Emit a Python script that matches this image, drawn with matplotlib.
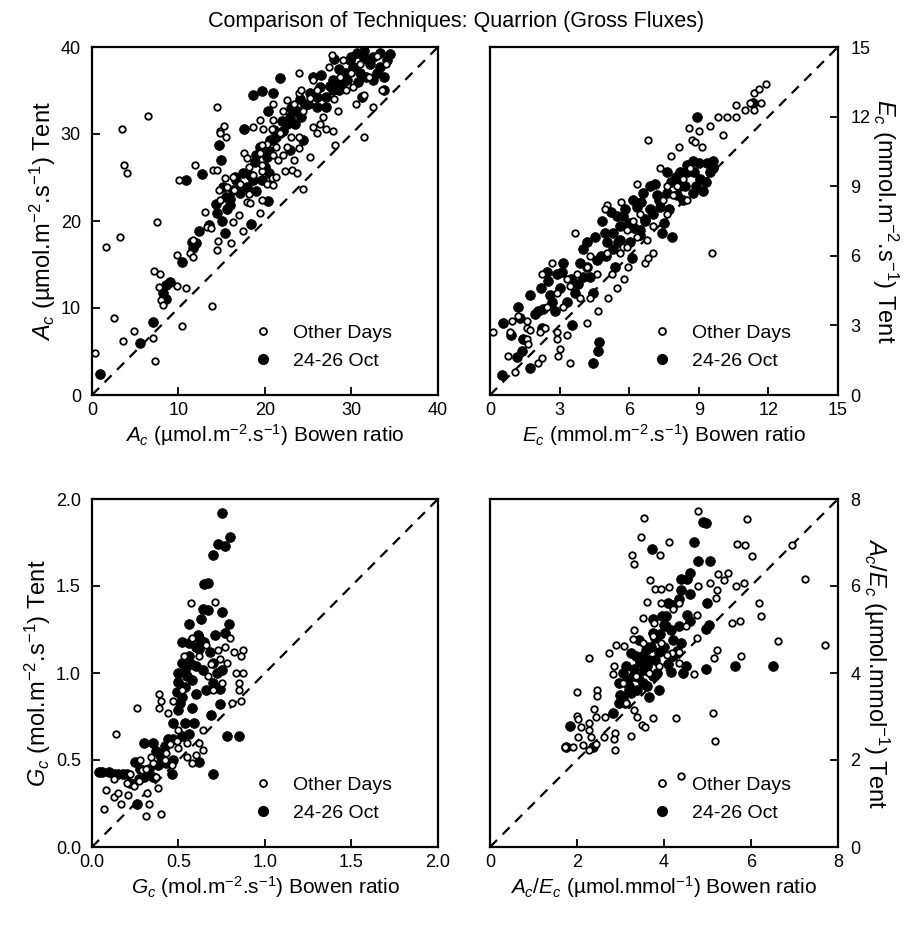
import matplotlib
matplotlib.use('Agg')
import matplotlib.pyplot as plt
from matplotlib.lines import Line2D

# ---------------- data ----------------
# Panel A: Ac (umol m-2 s-1), Bowen ratio (x) vs Tent (y)
ac_br_other = [3.5,3.7,4.1,6.5,14.4,7.5,3.2,1.6,2.5,0.3,
               3.6,4.9,7.1,7.3,10.4,13.9,9.8,10.9,7.2,7.9,
               7.7,8.0,8.2,9.8,11.9,10.1,14.0,14.5,14.8,15.3,
               15.5,14.8,15.4,16.3,14.7,16.4,13.1,13.3,13.8,14.5,
               14.6,16.1,17.5,16.3,17.0,17.9,18.3,19.4,17.6,17.9,
               18.6,19.7,20.2,20.9,20.8,19.6,19.4,20.2,20.9,22.1,
               21.3,22.5,22.3,23.1,23.7,24.4,25.2,23.9,23.9,19.4,
               18.6,19.8,20.8,20.9,20.9,22.1,23.3,23.9,23.9,24.2,
               25.2,26.0,26.4,27.1,27.9,28.4,28.1,29.4,27.4,27.7,
               31.4,32.5,24.4,25.6,26.7,25.6,28.7,30.2,22.5,21.7,
               18.1,19.6,14.8,15.6,17.1,23.0,21.3,23.3,21.5,18.1,
               19.6,11.3,11.7,11.7,30.0,31.0,32.0,33.0,29.0,34.0,
               31.5,33.5,26.0,28.0,30.5]
ac_tent_other = [30.6,26.4,25.5,32.1,33.1,19.9,18.2,17.0,8.9,4.8,
                 6.2,7.3,6.6,3.9,7.9,10.2,12.5,12.3,14.3,13.9,
                 12.4,10.9,10.3,16.1,26.4,24.7,25.9,25.9,30.4,30.9,
                 29.6,30.1,24.9,25.1,23.6,23.6,21.0,19.3,19.2,16.7,
                 17.7,17.5,18.8,19.9,20.7,22.2,22.1,20.9,27.8,27.2,
                 25.3,25.7,24.3,24.1,24.9,26.4,27.8,28.9,27.6,27.6,
                 28.5,28.5,25.7,25.9,25.5,23.7,27.4,28.4,29.7,31.6,
                 30.8,30.6,30.6,31.6,33.5,32.7,33.5,37.0,34.7,35.0,
                 34.1,30.1,31.2,30.6,30.4,32.6,28.7,35.0,37.7,39.1,
                 29.6,33.1,32.7,30.8,32.0,36.2,36.6,35.4,33.9,30.1,
                 23.1,22.4,22.4,23.9,24.3,29.7,25.1,27.0,27.0,26.2,
                 28.7,16.3,17.8,15.9,37.0,38.0,36.5,39.0,38.5,38.0,
                 34.5,35.0,35.0,34.0,33.5]
ac_br_oct = [0.9,5.6,7.0,8.6,8.2,10.4,10.9,12.7,14.9,14.7,
             11.7,11.6,12.4,15.4,14.3,15.6,15.5,16.3,17.6,18.6,
             19.6,20.9,21.7,20.4,20.3,18.4,18.6,19.4,20.2,20.9,
             21.7,22.5,22.9,23.7,23.5,22.1,21.3,20.0,17.9,17.1,
             15.9,14.4,25.6,25.2,26.4,27.1,27.9,27.1,26.0,28.7,
             29.4,29.8,30.6,31.4,32.1,33.3,32.9,31.7,31.0,33.7,
             31.2,30.2,32.5,34.1,33.3,24.6,24.2,27.9,24.4,22.9,
             20.6,19.6,18.3,16.7,15.2,28.5,29.0,30.0,31.5,32.5,
             33.8,34.5,30.8,28.0,26.5,16.5,17.5,18.8,19.0,20.5,
             21.0,22.0,23.0,24.0,25.0,26.0,27.5,28.5,29.5,16.0,
             15.0,13.5,12.0,9.0,8.5,19.0,20.5]
ac_tent_oct = [2.4,6.0,8.4,12.6,11.7,15.3,24.7,25.4,27.0,28.7,
               16.9,17.6,18.9,18.6,21.9,21.4,22.8,23.6,30.6,34.5,
               34.9,34.7,36.4,32.7,22.3,19.7,24.7,28.5,27.4,29.3,
               30.1,31.2,32.0,32.6,31.2,30.4,29.7,26.2,23.9,23.2,
               21.8,20.9,36.6,34.7,35.4,34.3,35.0,33.1,33.1,35.8,
               37.0,38.5,39.3,38.7,38.1,39.3,37.0,36.6,37.0,35.0,
               34.3,37.7,36.2,38.5,37.7,33.3,32.0,36.2,29.3,28.2,
               29.3,24.7,25.3,24.7,23.9,37.5,36.0,38.8,39.5,38.9,
               36.5,39.2,36.0,38.6,36.8,25.0,25.5,26.8,27.6,28.0,
               30.5,31.5,33.0,34.0,33.5,34.2,35.5,35.0,36.2,22.5,
               20.0,19.5,17.5,13.0,11.0,23.5,25.5]

# Panel B: Ec (mmol m-2 s-1)
ec_br_other = [0.14,0.86,0.93,1.22,0.79,1.08,1.58,1.58,1.72,1.58,
               1.65,2.08,2.23,2.16,2.37,2.87,2.90,3.02,2.95,3.45,
               3.30,2.44,2.23,2.66,3.66,4.17,4.67,5.10,5.46,5.77,
               5.03,4.96,5.65,6.32,6.68,6.83,7.04,7.33,7.82,8.15,
               6.83,8.59,8.99,8.69,8.84,9.12,9.48,9.84,10.2,10.06,
               10.6,10.6,10.99,11.2,11.4,11.4,11.6,11.9,11.7,9.55,
               6.32,5.89,5.75,5.03,4.31,4.17,5.96,6.75,7.04,7.61,
               7.90,8.33,8.48,7.61,8.62,3.16,3.45,3.88,4.31,2.87,
               3.30,3.74,4.60,5.24,5.60,5.89,6.18,6.47,7.47,8.05]
ec_tent_other = [2.7,2.7,3.2,3.4,1.7,1.0,3.2,2.9,2.8,2.4,
                 2.2,1.4,1.6,2.7,2.9,2.7,2.4,2.0,1.7,1.4,
                 2.6,3.8,5.2,5.7,7.0,3.1,3.6,4.2,4.6,5.0,
                 8.2,8.0,8.3,9.1,5.7,5.9,6.1,9.8,10.3,10.7,
                 11.0,11.5,11.4,11.0,10.9,10.7,11.6,12.0,12.0,11.2,
                 12.5,12.0,12.3,12.6,12.3,13.0,13.2,13.4,12.6,6.1,
                 6.8,7.1,6.4,6.1,6.0,5.5,5.5,6.7,7.3,7.8,
                 8.6,9.3,8.4,9.0,9.8,3.8,4.7,4.2,4.2,4.4,
                 5.0,5.2,5.2,5.2,6.1,6.4,7.5,7.8,8.4,9.0]
ec_br_oct = [0.50,0.57,1.22,1.72,1.72,1.15,1.36,2.08,2.23,2.59,
             2.80,3.09,3.16,3.52,2.44,4.02,3.99,4.31,4.45,4.67,
             4.70,4.53,4.81,4.96,4.45,3.66,3.30,5.46,5.60,6.18,
             6.11,5.39,6.61,7.11,8.19,8.76,9.34,9.48,8.91,11.35,
             7.83,7.40,7.61,8.33,8.76,9.19,7.04,6.68,6.47,5.75,
             6.32,7.33,8.19,8.48,9.05,7.61,8.05,6.47,6.04,5.60,
             5.03,3.88,2.87,2.66,2.30,1.94,1.44,5.2,5.8,6.5,
             6.9,7.2,7.8,8.5,9.0,9.6,6.0,7.5,8.9,6.9,
             5.3,4.8,3.5,3.8,4.2,4.6,5.0,5.5,6.2,6.7,
             7.3,7.7,8.0,8.4,8.8,9.3,9.6,5.3,4.2,2.2,
             2.5,1.3,0.9,3.0]
ec_tent_oct = [0.86,3.1,3.8,4.3,1.15,1.65,1.9,3.6,2.9,4.3,
               3.6,5.3,5.7,3.0,5.3,6.3,5.1,5.1,1.4,1.9,
               2.3,6.8,7.5,7.0,4.4,4.4,4.0,7.7,7.3,8.4,
               5.9,5.5,8.7,9.1,9.6,10.1,10.0,9.6,12.0,12.6,
               6.8,7.0,8.7,8.4,8.7,8.8,7.8,7.5,7.1,7.7,
               8.1,8.1,9.0,9.6,9.3,9.6,8.6,6.9,6.6,6.7,
               6.6,5.7,5.2,4.0,3.7,3.5,2.4,7.9,8.0,8.3,
               8.0,8.6,9.2,9.9,10.0,10.1,7.4,7.4,9.0,9.0,
               6.3,6.0,5.0,4.8,5.5,5.8,6.0,6.6,7.2,7.6,
               8.4,8.0,9.4,9.0,9.6,9.2,9.8,7.0,6.6,4.6,
               4.9,3.3,2.6,4.6]

# Panel C: Gc (mol m-2 s-1)
gc_br_other = [0.07,0.08,0.14,0.13,0.13,0.17,0.15,0.20,0.21,0.26,
               0.31,0.33,0.40,0.32,0.39,0.40,0.39,0.44,0.47,0.37,
               0.50,0.53,0.57,0.71,0.64,0.64,0.60,0.55,0.73,0.74,
               0.82,0.87,0.86,0.83,0.87,0.85,0.85,0.81,0.86,0.78,
               0.75,0.67,0.66,0.62,0.52,0.50,0.49,0.43,0.35,0.29,
               0.28,0.24,0.38,0.45,0.22,0.27,0.31,0.34,0.42,0.46,
               0.55,0.58,0.62,0.70,0.77,0.80,0.69,0.58]
gc_tent_other = [0.22,0.33,0.65,0.39,0.29,0.25,0.31,0.37,0.30,0.80,
                 0.18,0.25,0.19,0.31,0.88,0.84,0.80,0.77,0.84,0.40,
                 0.57,1.10,1.40,1.41,0.67,0.56,0.53,0.52,1.13,1.08,
                 1.12,1.13,1.10,1.00,1.00,0.94,0.90,0.83,0.84,1.06,
                 0.94,0.98,1.16,1.10,0.90,0.67,0.61,0.54,0.48,0.44,
                 0.50,0.35,0.34,0.59,0.42,0.38,0.45,0.52,0.50,0.47,
                 0.60,0.48,0.60,0.90,1.15,1.20,1.05,1.20]
gc_br_oct = [0.75,0.80,0.73,0.77,0.70,0.65,0.67,0.67,0.64,0.75,
             0.63,0.56,0.79,0.77,0.71,0.61,0.52,0.56,0.50,0.54,
             0.60,0.58,0.70,0.74,0.74,0.69,0.49,0.51,0.54,0.59,
             0.52,0.78,0.85,0.70,0.62,0.44,0.30,0.35,0.25,0.43,
             0.41,0.37,0.31,0.27,0.22,0.18,0.13,0.06,0.04,0.26,
             0.47,0.46,0.56,0.52,0.56,0.62,0.68,0.70,0.75,0.64,
             0.54,0.50,0.47,0.50,0.52,0.55,0.57,0.60,0.62,0.65,
             0.58,0.60,0.66,0.72,0.40,0.38,0.33,0.30,0.35,0.42,
             0.47,0.28,0.20,0.15,0.10]
gc_tent_oct = [1.92,1.78,1.74,1.73,1.68,1.51,1.52,1.36,1.37,1.35,
               1.31,1.28,1.28,1.23,1.22,1.22,1.18,1.17,1.00,1.02,
               1.04,0.96,0.94,0.91,0.82,0.76,0.89,0.83,0.71,0.71,
               0.64,0.64,0.64,0.42,0.49,0.62,0.60,0.60,0.49,0.48,
               0.54,0.55,0.44,0.39,0.37,0.42,0.42,0.43,0.43,0.25,
               0.50,0.42,0.65,1.06,1.10,1.14,1.12,1.06,1.02,1.02,
               0.92,0.79,0.71,0.95,0.86,0.98,1.05,1.15,1.20,1.18,
               0.80,0.88,0.90,1.00,0.52,0.47,0.45,0.40,0.40,0.58,
               0.62,0.45,0.42,0.42,0.43]

# Panel D: Ac/Ec (umol mmol-1)
wue_br_other = [3.55,4.79,5.91,3.47,4.12,3.91,3.26,3.32,5.68,5.86,
                6.02,6.94,3.68,3.79,3.93,4.11,3.61,3.93,4.79,5.06,
                5.24,5.46,5.39,5.22,5.19,5.65,5.83,6.19,6.23,5.56,
                5.75,4.77,3.51,3.30,3.76,6.63,5.22,5.16,5.78,4.68,
                4.76,4.35,4.18,2.28,2.74,2.90,3.09,2.86,2.82,2.00,
                2.47,2.47,1.99,2.02,2.40,2.44,2.65,2.28,2.09,2.28,
                2.32,2.02,1.73,2.63,2.87,2.86,2.88,3.25,3.32,3.39,
                3.49,3.57,3.74,4.28,5.12,5.18,3.13,3.28,3.51,3.93,
                4.08,3.89,3.66,3.36,3.05,4.35,4.51,4.20,4.35,3.74,
                2.28,1.90,2.13,2.44,4.40,7.25,7.70]
wue_tent_other = [7.56,7.73,7.54,7.12,7.02,6.72,6.71,6.50,6.96,6.94,
                  6.69,6.94,6.13,5.92,5.94,5.98,5.63,5.60,6.01,6.06,
                  6.27,6.31,6.13,5.90,5.73,6.00,6.08,5.60,5.30,5.15,
                  5.19,5.33,5.27,5.00,5.15,4.74,4.53,4.34,4.39,3.97,
                  4.80,4.49,4.46,4.34,4.46,4.65,4.63,4.15,3.98,3.57,
                  3.61,3.47,3.01,2.95,3.18,2.99,2.99,2.84,2.76,2.68,
                  2.53,2.53,2.30,2.53,2.61,2.49,2.22,2.55,3.16,2.99,
                  2.81,2.76,2.97,2.97,3.09,2.44,3.30,4.78,4.69,4.69,
                  4.42,4.15,3.99,3.92,3.76,4.22,5.07,5.46,5.61,4.84,
                  2.22,2.30,2.34,2.37,1.63,6.15,4.65]
wue_br_oct = [4.90,4.97,4.68,3.72,4.79,5.05,4.39,4.54,4.60,4.35,
              4.20,4.99,4.52,5.04,4.97,3.95,4.05,3.74,3.43,3.59,
              3.89,3.36,3.13,3.05,2.97,3.20,3.05,2.97,2.82,3.66,
              3.89,4.16,4.43,4.51,4.97,5.64,6.51,1.85,3.55,3.66,
              3.74,3.28,3.39,3.51,3.24,4.16,3.74,4.05,4.20,4.35,
              1.75,2.36,3.60,3.80,4.00,3.45,3.15,3.25,3.60,3.85,
              4.10,4.30,3.30,3.50,3.70,3.90,4.00,3.20,3.10,3.40,
              3.80,4.20,4.40,4.60,4.10,3.00,3.60,4.40,4.60]
wue_tent_oct = [7.47,7.45,7.02,6.85,6.58,6.58,6.15,6.15,5.81,5.71,
                5.57,5.61,5.34,5.11,5.01,5.30,5.07,4.92,4.76,4.53,
                4.49,4.38,4.15,3.99,3.76,3.69,3.45,3.30,3.07,3.45,
                3.61,4.03,3.99,4.15,4.09,4.15,4.16,2.78,4.07,4.30,
                3.92,3.92,3.61,3.76,4.46,5.00,5.23,5.30,4.76,5.07,
                2.30,2.30,4.60,4.80,4.60,4.25,3.85,3.55,4.15,4.00,
                4.20,4.50,4.10,4.40,4.60,4.90,5.10,3.60,3.30,3.90,
                4.30,4.40,4.70,5.20,5.60,3.50,3.70,5.90,6.30]

title = "Comparison of Techniques: Quarrion (Gross Fluxes)"
legend_labels = ["Other Days", "24-26 Oct"]

# ---------------- style ----------------
plt.rcParams['font.family'] = ['Liberation Sans', 'DejaVu Sans']
plt.rcParams['mathtext.fontset'] = 'custom'
plt.rcParams['mathtext.rm'] = 'Liberation Sans'
plt.rcParams['mathtext.it'] = 'Liberation Sans:italic'
plt.rcParams['mathtext.bf'] = 'Liberation Sans:bold'

TICK_FS = 13
XLABEL_FS = 15
YLABEL_FS = 17
LEG_FS = 14

fig = plt.figure(figsize=(9.12, 9.26), dpi=100)
W, H = 912.0, 926.0
ax_a = fig.add_axes([92 / W, 1 - 395 / H, 346 / W, 348 / H])
ax_b = fig.add_axes([490 / W, 1 - 395 / H, 348 / W, 348 / H])
ax_c = fig.add_axes([92 / W, 1 - 847 / H, 346 / W, 348 / H])
ax_d = fig.add_axes([490 / W, 1 - 847 / H, 348 / W, 348 / H])

panels = [
    (ax_a, ac_br_other, ac_tent_other, ac_br_oct, ac_tent_oct, (0, 40), [0, 10, 20, 30, 40], "{:.0f}",
     r"$A_c$ (µmol.m$^{-2}$.s$^{-1}$) Bowen ratio", r"$A_c$ (µmol.m$^{-2}$.s$^{-1}$) Tent", 'left'),
    (ax_b, ec_br_other, ec_tent_other, ec_br_oct, ec_tent_oct, (0, 15), [0, 3, 6, 9, 12, 15], "{:.0f}",
     r"$E_c$ (mmol.m$^{-2}$.s$^{-1}$) Bowen ratio", r"$E_c$ (mmol.m$^{-2}$.s$^{-1}$) Tent", 'right'),
    (ax_c, gc_br_other, gc_tent_other, gc_br_oct, gc_tent_oct, (0, 2), [0, 0.5, 1.0, 1.5, 2.0], "{:.1f}",
     r"$G_c$ (mol.m$^{-2}$.s$^{-1}$) Bowen ratio", r"$G_c$ (mol.m$^{-2}$.s$^{-1}$) Tent", 'left'),
    (ax_d, wue_br_other, wue_tent_other, wue_br_oct, wue_tent_oct, (0, 8), [0, 2, 4, 6, 8], "{:.0f}",
     r"$A_c/E_c$ (µmol.mmol$^{-1}$) Bowen ratio", r"$A_c/E_c$ (µmol.mmol$^{-1}$) Tent", 'right'),
]

for ax, xo, yo, xf, yf, lim, ticks, fmt, xl, yl, side in panels:
    ax.set_xlim(lim)
    ax.set_ylim(lim)
    ax.plot(lim, lim, color='black', lw=1.6, ls=(0, (4.5, 3.5)), zorder=1)
    ax.scatter(xf, yf, s=50, facecolor='black', edgecolor='black', lw=0.5, zorder=2)
    ax.scatter(xo, yo, s=22, facecolor='white', edgecolor='black', lw=1.3, zorder=3)
    ax.set_xticks(ticks)
    ax.set_yticks(ticks)
    ax.set_xticklabels([fmt.format(t) for t in ticks])
    ax.set_yticklabels([fmt.format(t) for t in ticks])
    for sp in ax.spines.values():
        sp.set_linewidth(1.6)
    ax.tick_params(direction='in', length=6, width=1.3, labelsize=TICK_FS)
    ax.tick_params(axis='x', pad=5)
    if side == 'right':
        ax.yaxis.tick_right()
        ax.yaxis.set_label_position('right')
        ax.tick_params(axis='y', pad=9)
        ax.set_ylabel(yl, fontsize=YLABEL_FS, rotation=270, va='bottom', labelpad=0)
    else:
        ax.tick_params(axis='y', pad=8)
        ax.set_ylabel(yl, fontsize=YLABEL_FS, labelpad=2)
    ax.set_xlabel(xl, fontsize=XLABEL_FS, labelpad=2)
    handles = [
        Line2D([], [], ls='none', marker='o', ms=5, mfc='white', mec='black', mew=1.3),
        Line2D([], [], ls='none', marker='o', ms=7, mfc='black', mec='black'),
    ]
    ax.legend(handles, legend_labels, loc='lower left', bbox_to_anchor=(0.445, 0.05),
              frameon=False, fontsize=LEG_FS, handlelength=1.0, handletextpad=1.0,
              labelspacing=0.55, borderaxespad=0)

fig.text(0.5, 1 - 22 / H, title, ha='center', va='center', fontsize=15.5)

fig.savefig('out.png', dpi=100)
